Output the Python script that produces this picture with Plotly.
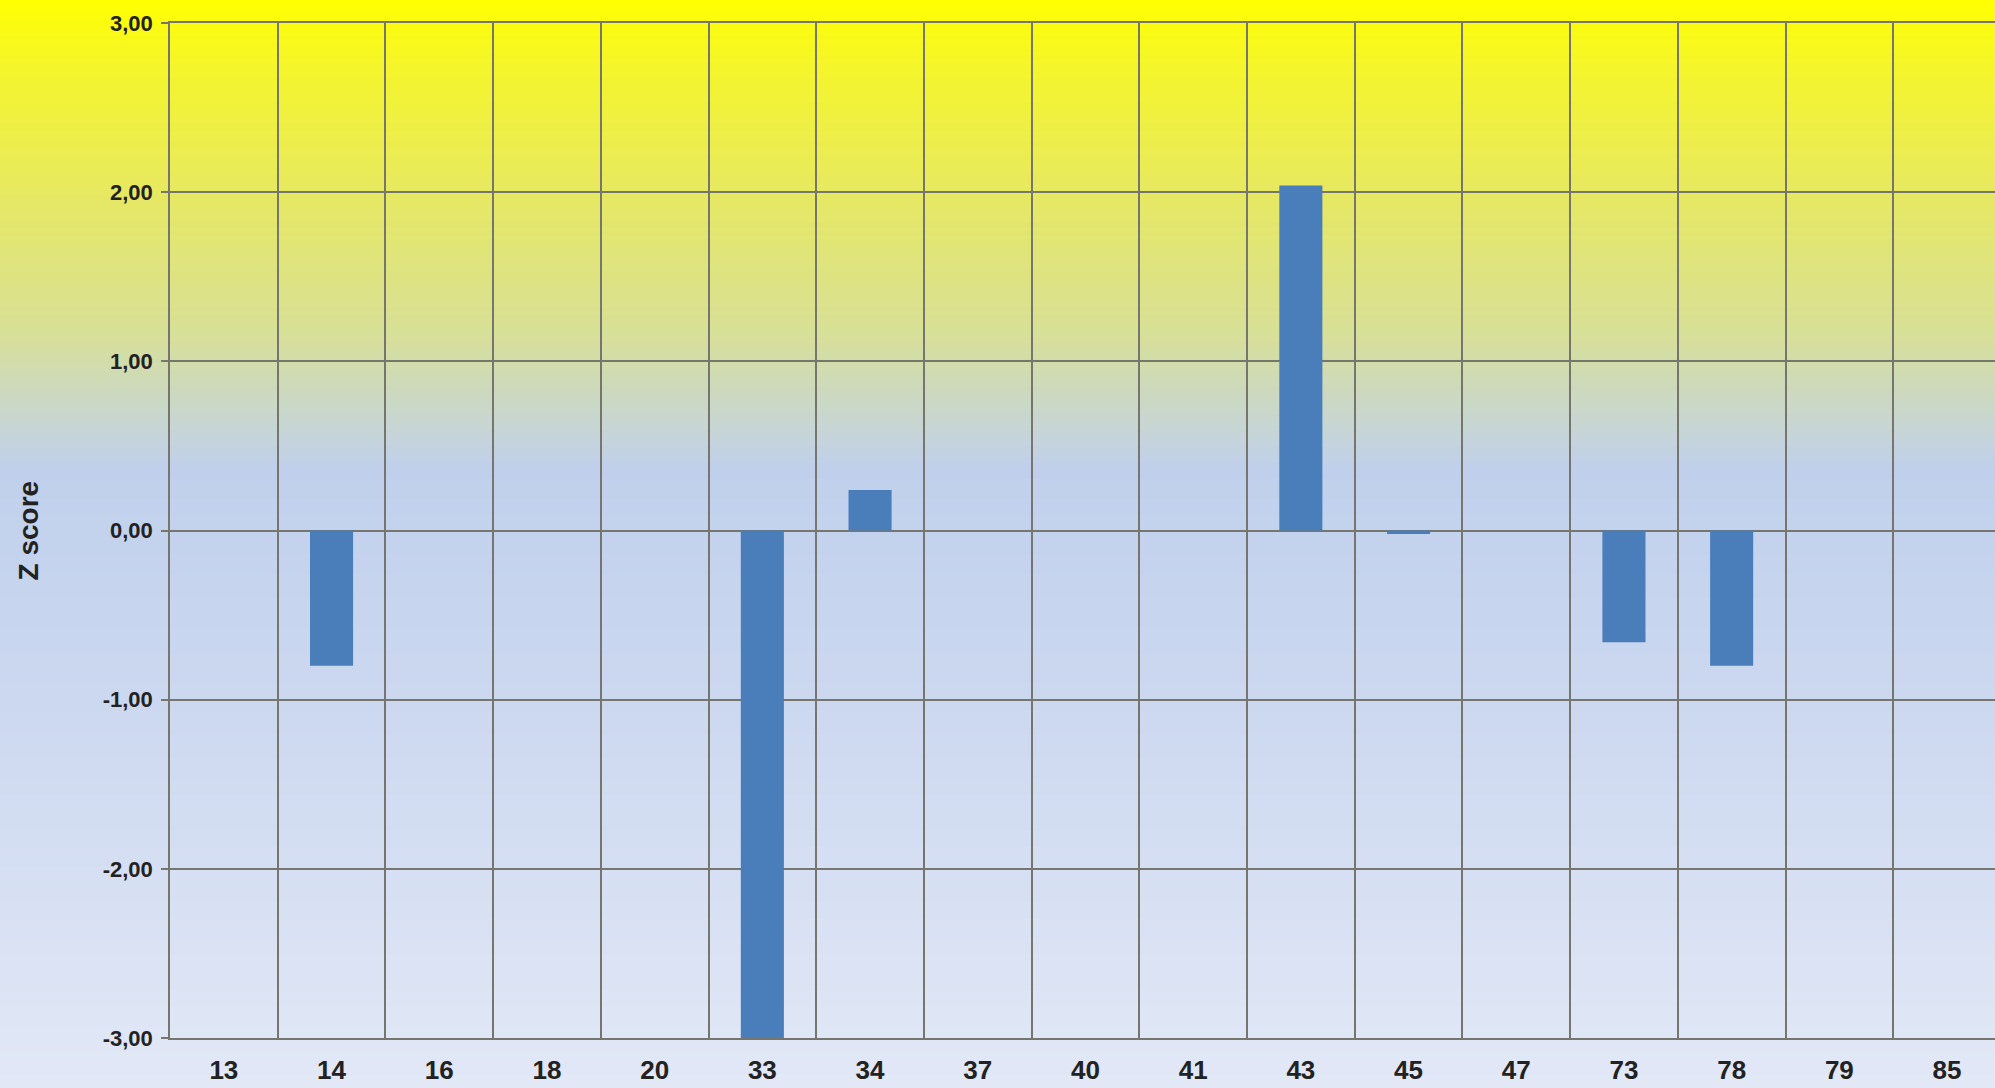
import plotly.graph_objects as go

categories = ["13", "14", "16", "18", "20", "33", "34", "37", "40", "41", "43", "45", "47", "73", "78", "79", "85"]
z_scores = [0.0, -0.80, 0.0, 0.0, 0.0, -3.00, 0.24, 0.0, 0.0, 0.0, 2.04, -0.02, 0.0, -0.66, -0.80, 0.0, 0.0]
y_ticks = [-3, -2, -1, 0, 1, 2, 3]
y_ticktext = [("%.2f" % v).replace(".", ",") for v in y_ticks]

W, H = 1995, 1088
L, R, T, B = 170, 0, 23, 50
plot_h = H - T - B
plot_w = W - L - R

# background gradient stops (page y in px, rgb)
stops = [
    (0, (255, 255, 0)),
    (60, (246, 246, 40)),
    (200, (230, 232, 100)),
    (330, (216, 224, 150)),
    (420, (200, 214, 208)),
    (470, (192, 208, 236)),
    (700, (204, 216, 240)),
    (1088, (226, 232, 246)),
]

def col_at(p):
    for (p0, c0), (p1, c1) in zip(stops[:-1], stops[1:]):
        if p0 <= p <= p1:
            t = (p - p0) / (p1 - p0) if p1 > p0 else 0
            return tuple(round(a + (b - a) * t) for a, b in zip(c0, c1))
    return stops[-1][1]

shapes = []
step = 4
for p in range(0, H, step):
    c = col_at(p + step / 2)
    y1 = (H - B - p + 1) / plot_h
    y0 = (H - B - (p + step + 1)) / plot_h
    shapes.append(dict(type="rect", xref="paper", yref="paper",
                       x0=-L / plot_w - 0.01, x1=1.01, y0=y0, y1=y1,
                       fillcolor="rgb(%d,%d,%d)" % c, line=dict(width=0), layer="below"))

xpos = list(range(len(categories)))
grid_col = "#76766e"
font_fam = "Liberation Sans, Arial, sans-serif"

fig = go.Figure(go.Bar(
    x=xpos, y=z_scores, width=0.4,
    marker=dict(color="#4a7ebb", line=dict(width=0)),
))

n = len(categories)
fig.update_layout(
    width=W, height=H,
    margin=dict(l=L, r=R, t=T, b=B),
    paper_bgcolor="#e2e8f6",
    plot_bgcolor="rgba(0,0,0,0)",
    showlegend=False,
    shapes=shapes,
    font=dict(family=font_fam, color="#222"),
    xaxis=dict(
        range=[-0.5, -0.5 + plot_w / 107.7],
        tickmode="array", tickvals=xpos, ticktext=categories,
        showgrid=False, zeroline=False,
        tickfont=dict(size=26, family=font_fam, color="#222", weight="bold"),
        minor=dict(tickvals=[i - 0.5 for i in range(n + 1)], showgrid=True,
                   gridcolor=grid_col, gridwidth=1.5, ticks=""),
        showline=True, linecolor=grid_col, linewidth=1.5, mirror=True,
        ticks="", ticklabelstandoff=8,
    ),
    yaxis=dict(
        range=[-3, 3], tickmode="array", tickvals=y_ticks, ticktext=y_ticktext,
        showgrid=True, gridcolor=grid_col, gridwidth=1.5,
        zeroline=True, zerolinecolor=grid_col, zerolinewidth=1.5,
        ticks="outside", ticklen=7, tickcolor=grid_col, tickwidth=1.5,
        tickfont=dict(size=22, family=font_fam, color="#222", weight="bold"),
        showline=True, linecolor=grid_col, linewidth=1.5,
        ticklabelstandoff=4,
    ),
    annotations=[dict(
        text="Z score", textangle=-90, xref="paper", yref="y",
        x=(28 - L) / plot_w, y=0, xanchor="center", yanchor="middle",
        showarrow=False, font=dict(size=28, color="#222", family=font_fam, weight="bold"),
    )],
)

fig.write_html("out.html", config={"displayModeBar": False},
               post_script="document.body.style.margin='0';document.body.style.padding='0';")
